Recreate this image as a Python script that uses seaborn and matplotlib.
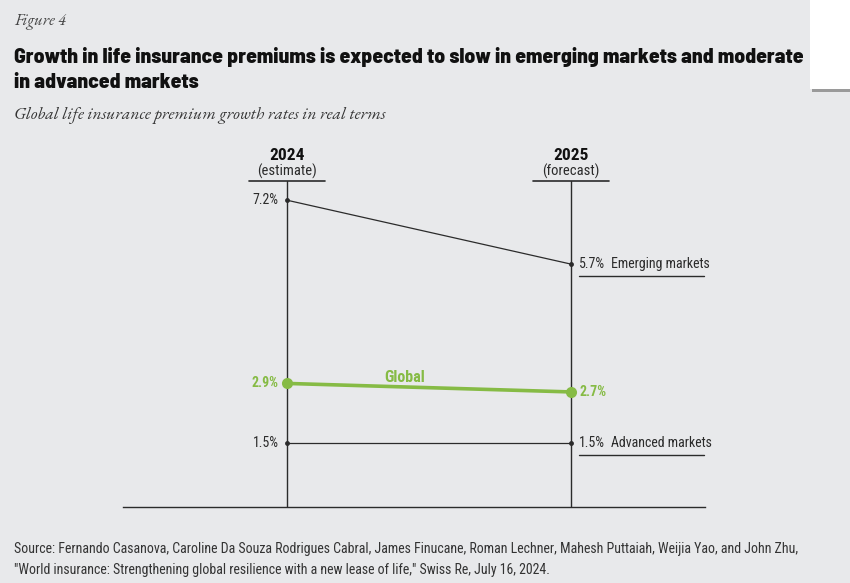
import matplotlib
matplotlib.use("Agg")
import matplotlib.pyplot as plt
import seaborn as sns
import pandas as pd
from matplotlib.patches import Rectangle

sns.set_theme(style="white")
SANS = ["Roboto Condensed", "Archivo Narrow", "DejaVu Sans"]
TITLE = ["Barlow Semi Condensed", "DejaVu Sans"]
SERIF = ["EB Garamond", "DejaVu Serif"]
plt.rcParams["font.family"] = SANS

# data
years = ["2024", "2025"]
year_notes = ["(estimate)", "(forecast)"]
series = ["Emerging markets", "Global", "Advanced markets"]
emerging = [7.2, 5.7]
global_ = [2.9, 2.7]
advanced = [1.5, 1.5]

df = pd.DataFrame({
    "pos": [0, 1] * 3,
    "value": emerging + global_ + advanced,
    "series": [s for s in series for _ in range(2)],
})

BG = "#e8e9eb"
DARK = "#2b2b2b"
GREEN = "#86bb45"

fig = plt.figure(figsize=(8.5, 5.83), dpi=100, facecolor=BG)
ax = fig.add_axes([123 / 850, 1 - 507 / 583, 582 / 850, 326 / 583])
ax.set_facecolor(BG)
ax.set_xlim(-0.577, 1.472)
ax.set_ylim(0, 7.65)
for s in ["top", "left", "right"]:
    ax.spines[s].set_visible(False)
ax.spines["bottom"].set_color(DARK)
ax.spines["bottom"].set_linewidth(1)
ax.set_xticks([])
ax.set_yticks([])

# vertical year axes
for x in [0, 1]:
    ax.axvline(x, color=DARK, lw=1, zorder=1)

# lines
for name, color, lw, ms in [("Emerging markets", DARK, 0.9, 3.5),
                            ("Advanced markets", DARK, 0.9, 3.5),
                            ("Global", GREEN, 2.6, 8)]:
    sub = df[df["series"] == name]
    sns.lineplot(data=sub, x="pos", y="value", color=color, lw=lw,
                 marker="o", markersize=ms, markeredgewidth=0, ax=ax, zorder=3)
ax.set_xlabel("")
ax.set_ylabel("")

# value labels
for vals, color, weight in [(emerging, DARK, "normal"), (advanced, DARK, "normal"),
                            (global_, GREEN, "bold")]:
    ax.annotate(f"{vals[0]:.1f}%", (0, vals[0]), xytext=(-6, 0), textcoords="offset points",
                ha="right", va="center", fontsize=10, color=color, fontweight=weight)
    ax.annotate(f"{vals[1]:.1f}%", (1, vals[1]), xytext=(6, 0), textcoords="offset points",
                ha="left", va="center", fontsize=10, color=color, fontweight=weight)

# series names on the right with underlines
for vals, name in [(emerging, "Emerging markets"), (advanced, "Advanced markets")]:
    ax.annotate(name, (1, vals[1]), xytext=(29, 0), textcoords="offset points",
                ha="left", va="center", fontsize=10, color=DARK)
    y_line = vals[1] - 12 / 42.6
    ax.plot([1 + 8 / 284, 1 + 133 / 284], [y_line, y_line], color=DARK, lw=1,
            clip_on=False)

ax.text(0.415, (global_[0] + global_[1]) / 2 + 0.06, "Global", ha="center", va="bottom",
        fontsize=11.5, fontweight="bold", color=GREEN)

# year headers
for x, yr, note in zip([0, 1], years, year_notes):
    ax.text(x, 7.67 + 25 / 42.6, yr, ha="center", va="center", fontsize=12.5,
            fontweight="bold", color="#111111", clip_on=False)
    ax.text(x, 7.67 + 9 / 42.6, note, ha="center", va="center", fontsize=10.5,
            color=DARK, clip_on=False)
    ax.plot([x - 38 / 284, x + 38 / 284], [7.65, 7.65], color=DARK, lw=1.2, clip_on=False)

# titles
fig.text(14 / 850, 1 - 22 / 583, "Figure 4", family=SERIF, style="italic",
         fontsize=12, color="#444444", va="center")
fig.text(14 / 850, 1 - 57 / 583,
         "Growth in life insurance premiums is expected to slow in emerging markets and moderate",
         family=TITLE, fontsize=15.5, fontweight=800, color="#111111", va="center")
fig.text(14 / 850, 1 - 82 / 583, "in advanced markets", family=TITLE, fontsize=15.5,
         fontweight=800, color="#111111", va="center")
fig.text(14 / 850, 1 - 116 / 583, "Global life insurance premium growth rates in real terms",
         family=SERIF, style="italic", fontsize=12.5, color="#333333", va="center")

fig.text(14 / 850, 1 - 549 / 583,
         "Source: Fernando Casanova, Caroline Da Souza Rodrigues Cabral, James Finucane, Roman Lechner, "
         "Mahesh Puttaiah, Weijia Yao, and John Zhu,",
         fontsize=10, color="#333333", va="center")
fig.text(14 / 850, 1 - 570 / 583,
         "\"World insurance: Strengthening global resilience with a new lease of life,\" Swiss Re, July 16, 2024.",
         fontsize=10, color="#333333", va="center")

# white box in the top-right corner
fig.patches.append(Rectangle((812 / 850, 1 - 92 / 583), 38 / 850, 92 / 583,
                             transform=fig.transFigure, facecolor="#9a9a9a",
                             edgecolor="none", zorder=0))
fig.patches.append(Rectangle((810 / 850, 1 - 89 / 583), 40 / 850, 89 / 583,
                             transform=fig.transFigure, facecolor="white",
                             edgecolor="none", zorder=1))

fig.savefig("out.png", dpi=100, facecolor=BG)
